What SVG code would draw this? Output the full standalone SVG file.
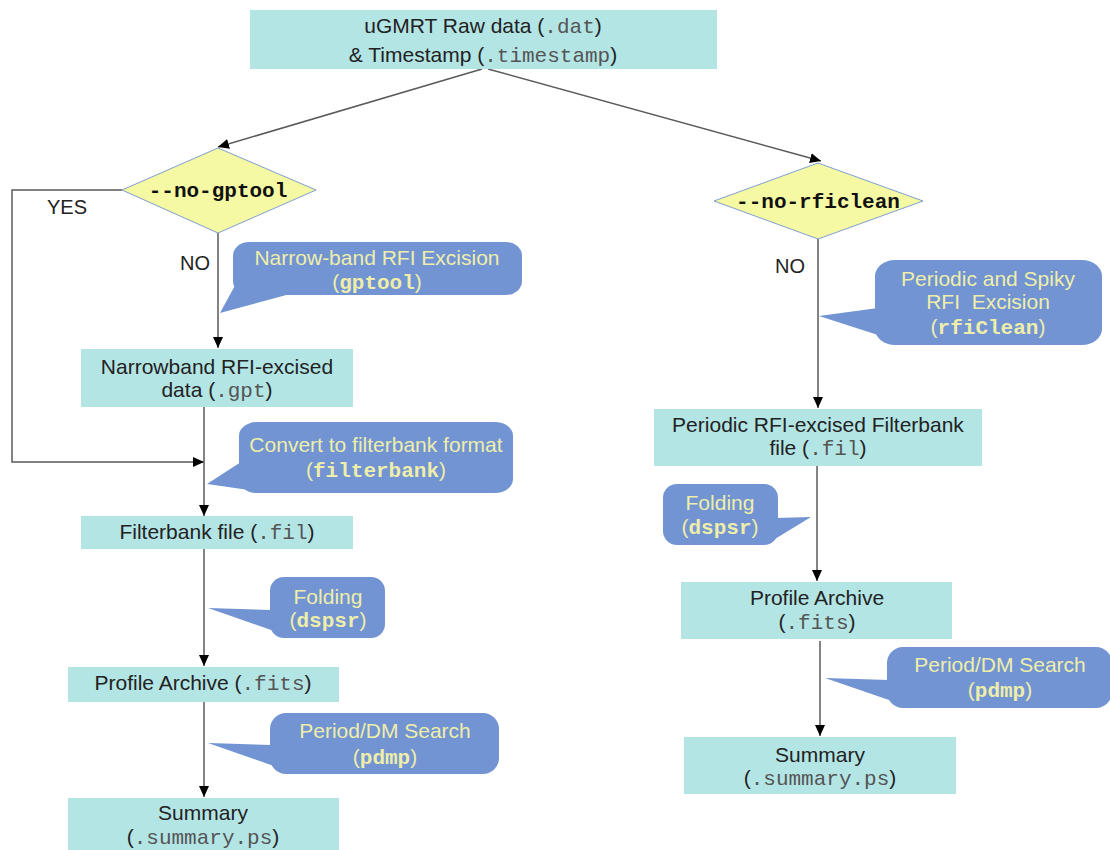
<svg xmlns="http://www.w3.org/2000/svg" width="1110" height="850" viewBox="0 0 1110 850">
<style>
.box{fill:#b4e5e5}
.dia{fill:#f6f9a4;stroke:#7f9fcf;stroke-width:1}
.call{fill:#7294d2}
.t{font-family:"Liberation Sans",Arial,sans-serif;font-size:21px;fill:#222;text-anchor:middle}
.lbl{font-family:"Liberation Sans",Arial,sans-serif;font-size:20px;fill:#222}
.m{font-family:"Liberation Mono","Courier New",monospace;fill:#555}
.mb{font-family:"Liberation Mono","Courier New",monospace;font-weight:bold}
.ct{font-family:"Liberation Sans",Arial,sans-serif;font-size:21px;fill:#eeeeaa;text-anchor:middle}
.dt{font-family:"Liberation Mono","Courier New",monospace;font-weight:bold;font-size:21px;fill:#111;text-anchor:middle}
.c{fill:none;stroke:#5a5a5a;stroke-width:1.5}
</style>
<defs>
<marker id="ah" markerUnits="userSpaceOnUse" markerWidth="12" markerHeight="10" refX="11" refY="5" orient="auto">
<path d="M0,0 L11,5 L0,10 z" fill="#000"/>
</marker>
</defs>
<rect width="1110" height="850" fill="#fff"/>

<g id="connectors">
<path class="c" d="M482,69 L218,147" marker-end="url(#ah)"/>
<path class="c" d="M488,69 L821,161" marker-end="url(#ah)"/>
<path class="c" d="M218,233 L218,348" marker-end="url(#ah)"/>
<path class="c" d="M122,190 L12,190 L12,462 L204,462" marker-end="url(#ah)"/>
<path class="c" d="M204,407 L204,516" marker-end="url(#ah)"/>
<path class="c" d="M204,549 L204,666" marker-end="url(#ah)"/>
<path class="c" d="M204,702 L204,797" marker-end="url(#ah)"/>
<path class="c" d="M818,239 L818,408" marker-end="url(#ah)"/>
<path class="c" d="M817,466 L817,581" marker-end="url(#ah)"/>
<path class="c" d="M820,641 L820,736" marker-end="url(#ah)"/>
</g>

<g id="raw">
<rect class="box" x="250" y="10" width="467" height="59"/>
<text class="t" x="483" y="33">uGMRT Raw data (<tspan class="m">.dat</tspan>)</text>
<text class="t" x="483" y="62">&amp; Timestamp (<tspan class="m">.timestamp</tspan>)</text>
</g>

<g id="no-gptool">
<polygon class="dia" points="218,148 316,190 218,233 122,190"/>
<text class="dt" x="218" y="197">--no-gptool</text>
</g>
<g id="yes-label"><text class="lbl" x="47" y="214">YES</text></g>
<g id="no-label-left"><text class="lbl" x="180" y="270">NO</text></g>

<g id="no-rficlean">
<polygon class="dia" points="818,163 923,201 818,239 714,201"/>
<text class="dt" x="818" y="208">--no-rficlean</text>
</g>
<g id="no-label-right"><text class="lbl" x="775" y="273">NO</text></g>

<g id="callout-gptool">
<rect class="call" x="233" y="242" width="289" height="53" rx="16" ry="14"/>
<polygon class="call" points="238,280 220,313 290,294"/>
<text class="ct" x="377" y="265">Narrow-band RFI Excision</text>
<text class="ct" x="377" y="289">(<tspan class="mb">gptool</tspan>)</text>
</g>

<g id="narrowband">
<rect class="box" x="81" y="349" width="272" height="58"/>
<text class="t" x="217" y="374">Narrowband RFI-excised</text>
<text class="t" x="217" y="397">data (<tspan class="m">.gpt</tspan>)</text>
</g>

<g id="callout-filterbank">
<rect class="call" x="239" y="422" width="274" height="71" rx="18" ry="14"/>
<polygon class="call" points="241,462 207,484 256,491"/>
<text class="ct" x="376" y="452">Convert to filterbank format</text>
<text class="ct" x="376" y="477">(<tspan class="mb">filterbank</tspan>)</text>
</g>

<g id="filterbank">
<rect class="box" x="81" y="516" width="272" height="33"/>
<text class="t" x="217" y="539">Filterbank file (<tspan class="m">.fil</tspan>)</text>
</g>

<g id="callout-dspsr-left">
<rect class="call" x="270" y="577" width="115" height="61" rx="14"/>
<polygon class="call" points="272,610 208,608 274,631"/>
<text class="ct" x="328" y="604">Folding</text>
<text class="ct" x="328" y="627">(<tspan class="mb">dspsr</tspan>)</text>
</g>

<g id="profile-left">
<rect class="box" x="68" y="667" width="271" height="35"/>
<text class="t" x="203" y="690">Profile Archive (<tspan class="m">.fits</tspan>)</text>
</g>

<g id="callout-pdmp-left">
<rect class="call" x="270" y="713" width="229" height="61" rx="16"/>
<polygon class="call" points="272,745 208,743 274,766"/>
<text class="ct" x="385" y="738">Period/DM Search</text>
<text class="ct" x="385" y="764">(<tspan class="mb">pdmp</tspan>)</text>
</g>

<g id="summary-left">
<rect class="box" x="68" y="798" width="271" height="56"/>
<text class="t" x="203" y="820">Summary</text>
<text class="t" x="203" y="844">(<tspan class="m">.summary.ps</tspan>)</text>
</g>

<g id="callout-rficlean">
<rect class="call" x="875" y="260" width="227" height="85" rx="20" ry="16"/>
<polygon class="call" points="878,308 819,316 878,335"/>
<text class="ct" x="988" y="286" xml:space="preserve">Periodic and Spiky</text>
<text class="ct" x="988" y="309" xml:space="preserve">RFI  Excision</text>
<text class="ct" x="988" y="334">(<tspan class="mb">rfiClean</tspan>)</text>
</g>

<g id="periodic-fil">
<rect class="box" x="654" y="409" width="328" height="57"/>
<text class="t" x="818" y="432">Periodic RFI-excised Filterbank</text>
<text class="t" x="818" y="455">file (<tspan class="m">.fil</tspan>)</text>
</g>

<g id="callout-dspsr-right">
<rect class="call" x="663" y="484" width="115" height="61" rx="14"/>
<polygon class="call" points="775,518 811,517 775,539"/>
<text class="ct" x="720" y="510">Folding</text>
<text class="ct" x="720" y="534">(<tspan class="mb">dspsr</tspan>)</text>
</g>

<g id="profile-right">
<rect class="box" x="681" y="582" width="271" height="57"/>
<text class="t" x="817" y="605">Profile Archive</text>
<text class="t" x="817" y="629">(<tspan class="m">.fits</tspan>)</text>
</g>

<g id="callout-pdmp-right">
<rect class="call" x="887" y="647" width="225" height="61" rx="16"/>
<polygon class="call" points="889,680 825,678 889,700"/>
<text class="ct" x="1000" y="672">Period/DM Search</text>
<text class="ct" x="1000" y="697">(<tspan class="mb">pdmp</tspan>)</text>
</g>

<g id="summary-right">
<rect class="box" x="684" y="737" width="272" height="57"/>
<text class="t" x="820" y="762">Summary</text>
<text class="t" x="820" y="785">(<tspan class="m">.summary.ps</tspan>)</text>
</g>
</svg>
